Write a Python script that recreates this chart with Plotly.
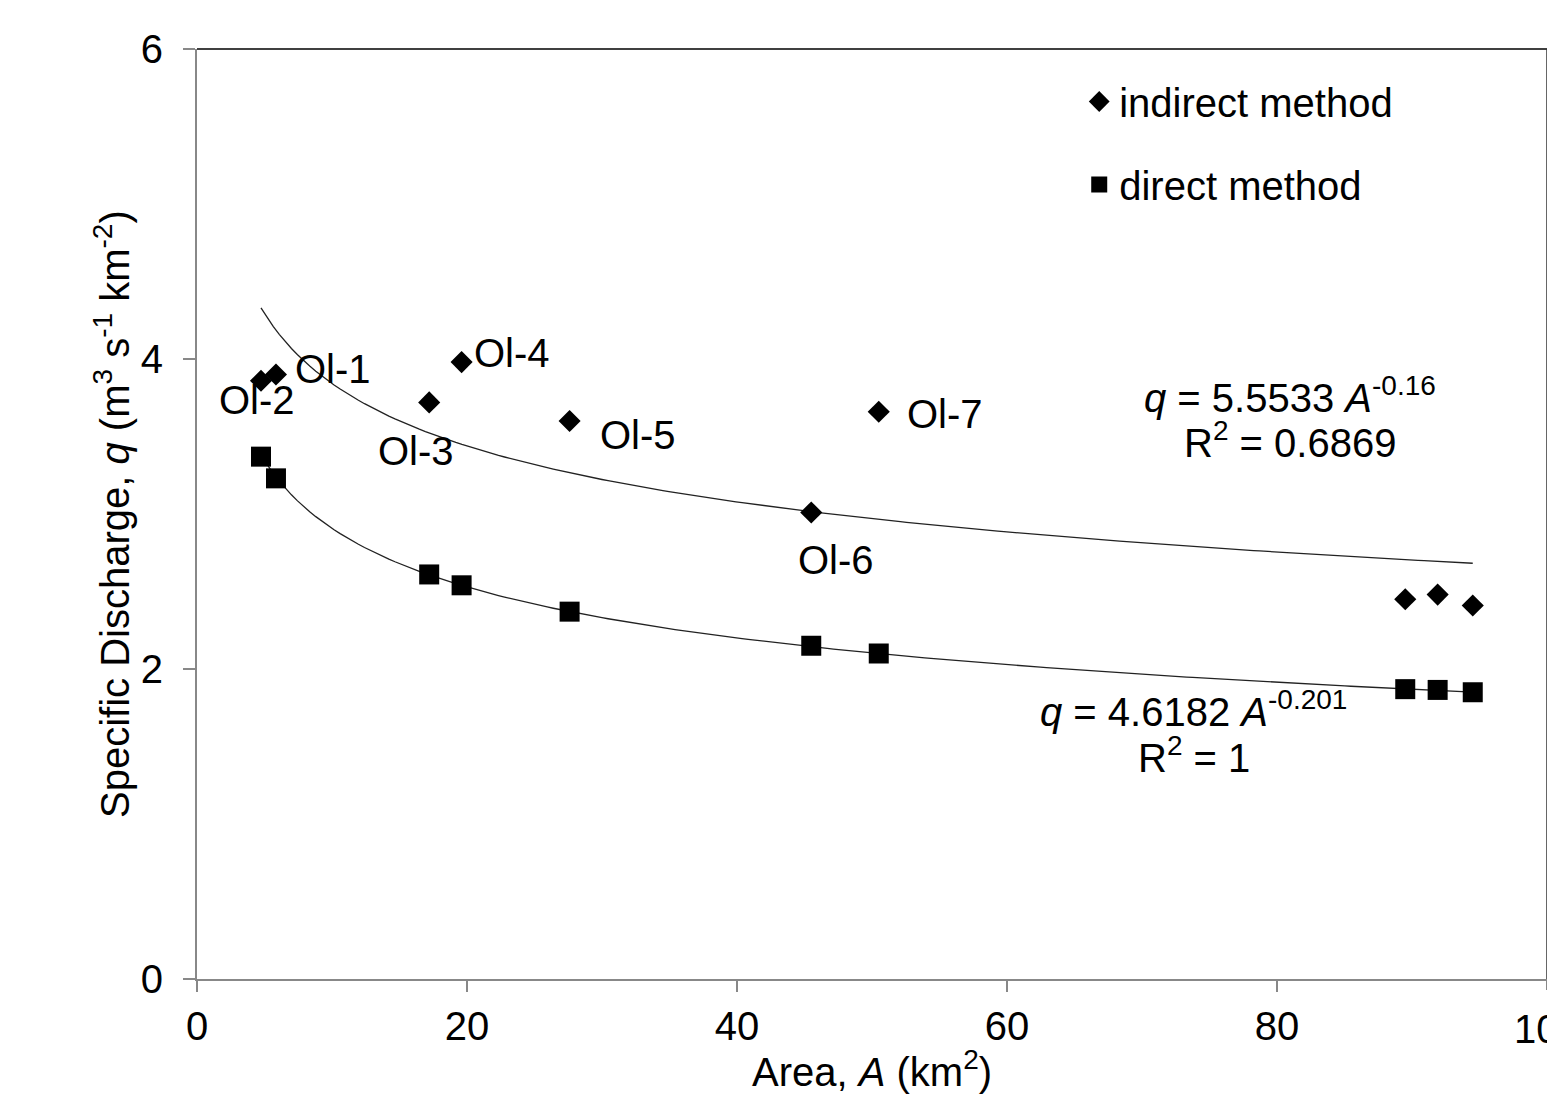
import numpy as np
import plotly.graph_objects as go

# Data
area = [4.74, 5.85, 17.2, 19.6, 27.6, 45.5, 50.5, 89.5, 91.9, 94.5]
q_indirect = [3.86, 3.90, 3.72, 3.98, 3.60, 3.01, 3.66, 2.45, 2.48, 2.41]
q_direct = [3.37, 3.23, 2.61, 2.54, 2.37, 2.15, 2.10, 1.87, 1.865, 1.85]
site_labels = ["Ol-2", "Ol-1", "Ol-3", "Ol-4", "Ol-5", "Ol-6", "Ol-7"]
# fitted power laws q = a * A^b
fit_indirect = (5.5533, -0.16)
fit_direct = (4.6182, -0.201)
x_ticks = [0, 20, 40, 60, 80, 100]
y_ticks = [0, 2, 4, 6]

FONT = "Liberation Sans, Arial, sans-serif"
FS = 40

fig = go.Figure()

xa = np.linspace(min(area), max(area), 200)
for a, b in (fit_indirect, fit_direct):
    fig.add_trace(go.Scatter(x=xa, y=a * xa ** b, mode="lines",
                             line=dict(color="#222222", width=1.3),
                             showlegend=False, hoverinfo="skip"))

fig.add_trace(go.Scatter(x=area, y=q_indirect, mode="markers", name="indirect method",
                         marker=dict(symbol="diamond", size=17, color="black"),
                         legendgroup="a"))
fig.add_trace(go.Scatter(x=area, y=q_direct, mode="markers", name="direct method",
                         marker=dict(symbol="square", size=20, color="black"),
                         legendgroup="b"))

# site labels attached to indirect points (pixel offsets)
offsets = [(-4, -19), (57, 6), (-13, -49), (50, 9), (68, -14), (25, -48), (66, -2)]
for i, (lab, (dx, dy)) in enumerate(zip(site_labels, offsets)):
    fig.add_annotation(x=area[i], y=q_indirect[i], text=lab, showarrow=False,
                       xshift=dx, yshift=dy, font=dict(family=FONT, size=FS, color="black"))

eqs = [
    (80.96, 3.77, "<i>q</i> = 5.5533 <i>A</i><sup>-0.16</sup>"),
    (80.96, 3.475, "R<sup>2</sup> = 0.6869"),
    (73.85, 1.745, "<i>q</i> = 4.6182 <i>A</i><sup>-0.201</sup>"),
    (73.85, 1.445, "R<sup>2</sup> = 1"),
]
for x, y, t in eqs:
    fig.add_annotation(x=x, y=y, text=t, showarrow=False,
                       font=dict(family=FONT, size=FS, color="black"))

# last x tick label (cut at the page edge as in the reference)
fig.add_annotation(x=x_ticks[-1], y=0, yref="y", text=str(x_ticks[-1]), showarrow=False,
                   yanchor="top", yshift=-26, font=dict(family=FONT, size=FS, color="black"))

# axis titles
fig.add_annotation(xref="paper", yref="paper", x=0.5, y=0, yanchor="middle", yshift=-90,
                   text="Area, <i>A</i> (km<sup>2</sup>)", showarrow=False,
                   font=dict(family=FONT, size=FS, color="black"))
fig.add_annotation(xref="paper", yref="paper", x=0, y=0.5, xanchor="center", xshift=-85,
                   textangle=-90,
                   text="Specific Discharge, <i>q</i> (m<sup>3</sup> s<sup>-1</sup> km<sup>-2</sup>)",
                   showarrow=False, font=dict(family=FONT, size=FS, color="black"))

# top and right frame lines
fig.add_shape(type="line", xref="paper", yref="paper", x0=0, x1=1, y0=1, y1=1,
              line=dict(color="black", width=1.5))
fig.add_shape(type="line", xref="paper", yref="paper", x0=1, x1=1, y0=0, y1=1,
              line=dict(color="#333333", width=1.5))

fig.update_layout(
    width=1547, height=1086,
    margin=dict(l=189, r=8, t=41, b=115),
    paper_bgcolor="white", plot_bgcolor="white",
    font=dict(family=FONT, size=FS, color="black"),
    legend=dict(x=0.6535, y=0.9785, xanchor="left", yanchor="top",
                font=dict(family=FONT, size=FS), tracegroupgap=28,
                traceorder="grouped", bgcolor="rgba(0,0,0,0)"),
    xaxis=dict(range=[0, 100], tickvals=x_ticks[:-1], showgrid=False, zeroline=False,
               automargin=False,
               showline=True, linecolor="#888888", linewidth=2,
               ticks="outside", ticklen=11, tickcolor="#888888", tickwidth=2,
               tickfont=dict(family=FONT, size=FS), ticklabelstandoff=0),
    yaxis=dict(range=[0, 6], tickvals=y_ticks, showgrid=False, zeroline=False,
               automargin=False,
               showline=True, linecolor="#888888", linewidth=2,
               ticks="outside", ticklen=12, tickcolor="#888888", tickwidth=2,
               tickfont=dict(family=FONT, size=FS), ticklabelstandoff=12),
)
# x tick at 100 (mark only; its label is drawn above)
fig.add_shape(type="line", xref="x", yref="paper", x0=x_ticks[-1], x1=x_ticks[-1],
              y0=0, y1=-11 / 930, line=dict(color="#888888", width=2))

fig.write_html("out.html")
